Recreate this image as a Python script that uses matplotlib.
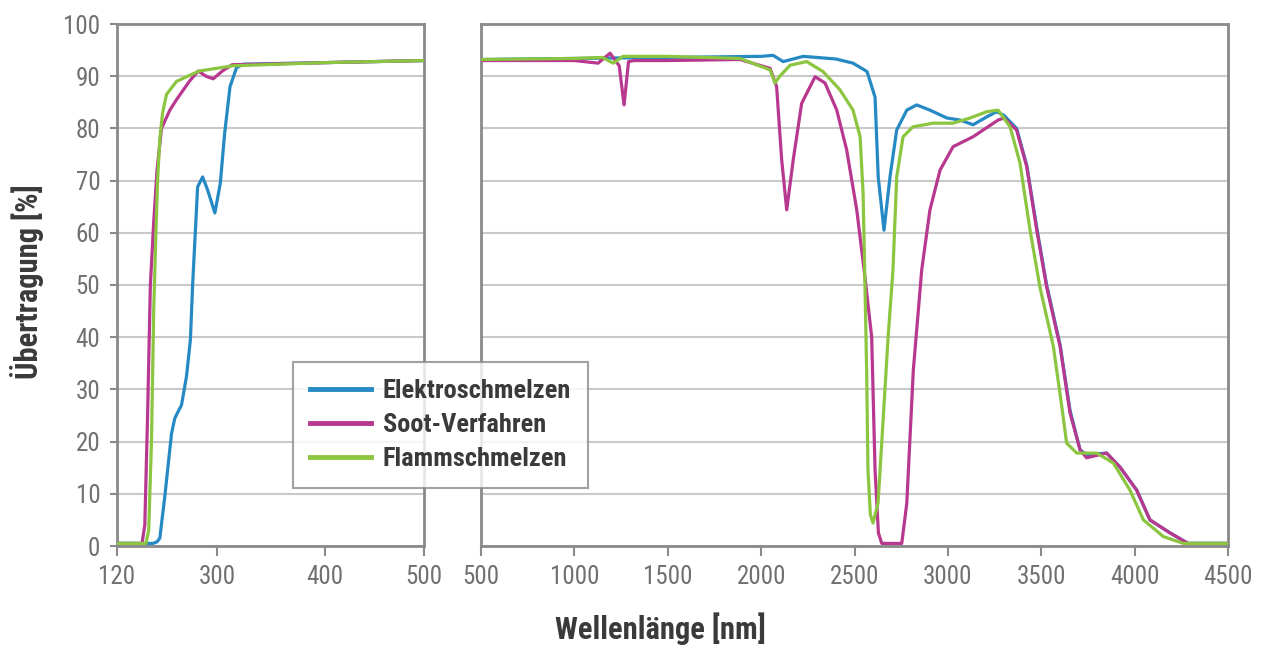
import numpy as np
import matplotlib
matplotlib.use("Agg")
import matplotlib.pyplot as plt
from matplotlib import font_manager

# pick a narrow font if one is installed
installed = {f.name for f in font_manager.fontManager.ttflist}
narrow = [n for n in ['Roboto Condensed', 'DejaVu Sans Condensed', 'Liberation Sans Narrow',
                      'Open Sans Condensed', 'Noto Sans Condensed'] if n in installed]
plt.rcParams['font.family'] = narrow[:1] + ['DejaVu Sans']

# --- data (wavelength in nm, transmission in %) ---
left_ticks = [120, 300, 400, 500]

blue_l_nm = [120, 185, 192, 197, 206, 218, 224, 236, 245, 252, 256, 265, 274, 283,
             296, 303, 307, 312, 318, 324, 400, 500]
blue_l = [0.5, 0.5, 0.8, 1.5, 9.5, 21.5, 24.5, 27, 32.5, 39.5, 50, 68.8, 70.7, 68.2,
          63.8, 69.5, 79, 88, 91.6, 92.3, 92.6, 93]

mag_l_nm = [120, 165, 170, 175, 180, 186, 192, 200, 215, 227, 250, 266, 280, 293,
            305, 314, 340, 400, 500]
mag_l = [0.5, 0.5, 4, 25, 50, 62, 72, 80, 83.5, 85.5, 89, 91, 90, 89.5,
         91, 92.2, 92.3, 92.6, 93]

grn_l_nm = [120, 172, 177, 182, 186, 190, 193, 197, 202, 209, 227, 268, 315, 400, 500]
grn_l = [0.5, 0.5, 3, 20, 45, 60, 70, 78, 83, 86.5, 89, 91, 92, 92.6, 93]

blue_r_nm = [500, 1000, 1500, 2000, 2064, 2118, 2225, 2400, 2492, 2567, 2610, 2627,
             2658, 2690, 2726, 2780, 2833, 2904, 2994, 3065, 3135, 3208, 3261, 3300,
             3368, 3422, 3476, 3529, 3601, 3654, 3708, 3743, 3850, 3922, 4011, 4082,
             4190, 4286, 4500]
blue_r = [93.2, 93.4, 93.6, 93.8, 94, 92.8, 93.8, 93.3, 92.5, 90.9, 86, 70.7,
          60.5, 70.7, 79.7, 83.5, 84.5, 83.5, 82, 81.6, 80.7, 82.2, 83.2, 82.5,
          80, 73, 61, 50, 38.5, 26, 18.4, 17.5, 17.8, 15.1, 10.7, 5,
          2.5, 0.5, 0.5]

mag_r_nm = [500, 1000, 1127, 1191, 1240, 1266, 1290, 1320, 1500, 1887, 2048, 2083,
            2110, 2137, 2172, 2217, 2289, 2342, 2405, 2458, 2512, 2556, 2592, 2610,
            2628, 2646, 2753, 2780, 2815, 2860, 2904, 2958, 3028, 3135, 3269, 3300,
            3368, 3422, 3476, 3529, 3601, 3654, 3708, 3743, 3850, 3922, 4011, 4082,
            4190, 4286, 4500]
mag_r = [93, 93, 92.5, 94.4, 92, 84.5, 92.8, 93, 93, 93.2, 91.5, 88,
         74, 64.4, 74, 84.8, 89.9, 88.7, 83.5, 75.9, 64.4, 51.5, 40, 14.6,
         2.5, 0.5, 0.5, 8.2, 33.7, 52.9, 64.4, 72, 76.5, 78.4, 81.6, 82,
         79.7, 72.7, 60.5, 49.6, 38.2, 25.5, 18.4, 16.9, 17.8, 15.1, 10.7, 5,
         2.5, 0.5, 0.5]

grn_r_nm = [500, 1000, 1150, 1208, 1260, 1500, 1887, 2048, 2074, 2100, 2155, 2244,
            2331, 2422, 2492, 2530, 2546, 2556, 2565, 2572, 2585, 2599, 2626, 2653,
            2680, 2706, 2726, 2760, 2813, 2920, 3028, 3119, 3208, 3269, 3333, 3386,
            3440, 3493, 3565, 3610, 3636, 3690, 3797, 3886, 3975, 4047, 4154, 4261,
            4500]
grn_r = [93.2, 93.4, 93.6, 92.5, 93.8, 93.8, 93.4, 91.2, 88.7, 90, 92.1, 92.8,
         90.9, 87.4, 83.5, 78.4, 67.6, 50, 33.7, 14.6, 6, 4.4, 8.2, 24,
         40, 52.9, 70.7, 78.4, 80.3, 81, 81, 82, 83.2, 83.5, 80.3, 73.4,
         60.5, 49.6, 38.2, 26.7, 19.7, 17.8, 17.8, 15.9, 10.7, 5, 1.8, 0.5,
         0.5]

labels = ['Elektroschmelzen', 'Soot-Verfahren', 'Flammschmelzen']
colors = ['#2589c4', '#b8378f', '#8cc540']

# left panel uses an uneven scale: 120-300-400-500 at (nearly) equal spacing
tick_pos = [0.0, 0.326, 0.677, 1.0]
def fwd(x):
    return np.interp(x, left_ticks, tick_pos)
def inv(x):
    return np.interp(x, tick_pos, left_ticks)

W, H = 1264, 646
fig = plt.figure(figsize=(W / 100, H / 100), dpi=100)
ax1 = fig.add_axes([117/W, 1-546/H, 307/W, 522/H])
ax2 = fig.add_axes([481/W, 1-546/H, 747/W, 522/H])

tick_col = '#707070'
spine_col = '#8a8a8a'
grid_col = '#c9c9c9'
text_col = '#3a3a3a'
fs = 18 if narrow else 14
lab_fs = 22 if narrow else 16

for ax in (ax1, ax2):
    ax.set_ylim(0, 100)
    ax.set_yticks(range(0, 101, 10))
    ax.grid(axis='y', color=grid_col, lw=1.5, zorder=0)
    ax.set_axisbelow(True)
    for s in ax.spines.values():
        s.set_color(spine_col)
        s.set_linewidth(2)
    ax.tick_params(axis='x', direction='out', length=7, width=1.5, color=spine_col,
                   labelsize=fs, labelcolor=tick_col, pad=7)
    ax.tick_params(axis='y', direction='out', length=5, width=1.5, color=spine_col,
                   labelsize=fs, labelcolor=tick_col, pad=7)

ax1.set_xscale('function', functions=(fwd, inv))
ax1.set_xlim(120, 500)
ax1.set_xticks(left_ticks)
ax1.set_xticklabels([str(t) for t in left_ticks])

ax2.set_xlim(500, 4500)
ax2.set_xticks(range(500, 4501, 500))
ax2.tick_params(axis='y', left=False, labelleft=False)

lw = 2.3
for xs, ys, c, lab in [(blue_l_nm, blue_l, colors[0], labels[0]),
                       (mag_l_nm, mag_l, colors[1], labels[1]),
                       (grn_l_nm, grn_l, colors[2], labels[2])]:
    ax1.plot(xs, ys, color=c, lw=lw, solid_joinstyle='round', label=lab, zorder=3)
for xs, ys, c in [(blue_r_nm, blue_r, colors[0]),
                  (mag_r_nm, mag_r, colors[1]),
                  (grn_r_nm, grn_r, colors[2])]:
    ax2.plot(xs, ys, color=c, lw=lw, solid_joinstyle='round', zorder=3)

fig.text(27/W, 1-282/H, 'Übertragung [%]', fontsize=lab_fs, fontweight='bold',
         color=text_col, rotation=90, ha='center', va='center')
fig.text(660/W, 1-639/H, 'Wellenlänge [nm]', fontsize=lab_fs, fontweight='bold',
         color=text_col, ha='center', va='baseline')

leg = fig.legend(loc='upper left', bbox_to_anchor=(293/W, 1-362/H),
                 borderaxespad=0, frameon=True, fancybox=False, handlelength=2.3,
                 handletextpad=0.45, borderpad=0.65, labelspacing=0.38,
                 prop={'weight': 'bold', 'size': 19 if narrow else 15})
leg.get_frame().set_edgecolor(spine_col)
leg.get_frame().set_linewidth(1.5)
for t in leg.get_texts():
    t.set_color(text_col)
for h in leg.legend_handles:
    h.set_linewidth(3.5)

fig.savefig('out.png', dpi=100)
